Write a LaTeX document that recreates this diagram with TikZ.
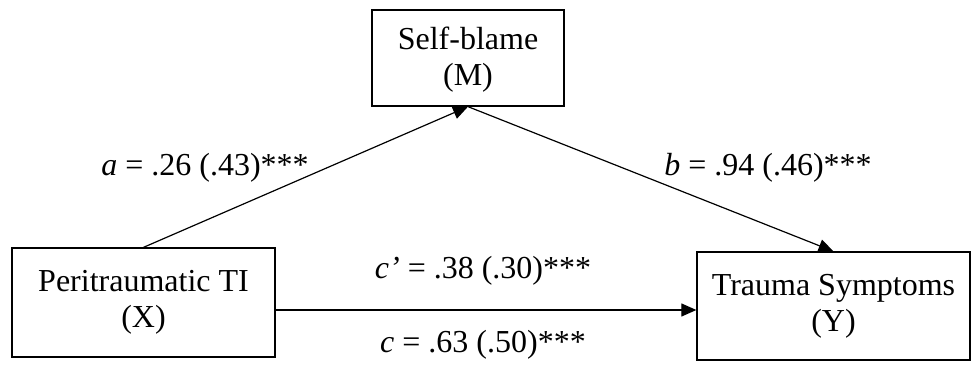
\documentclass[tikz,border=0pt]{standalone}
\usepackage{fontspec}
\setmainfont{Liberation Serif}
\usetikzlibrary{arrows.meta,positioning}
\tikzset{medbox/.style={draw=black,line width=0.65pt,align=center,inner sep=0pt,
 font=\fontsize{16}{18}\selectfont},
 medarr/.style={-{Triangle[length=7.5pt,width=6.5pt]},line width=0.6pt},
 coef/.style={anchor=base,inner sep=0pt,font=\fontsize{16}{18}\selectfont}}

\begin{document}
\begin{tikzpicture}[x=0.5pt,y=-0.5pt]
\useasboundingbox (0,0) rectangle (972,364);
\node[medbox,minimum width=96pt,minimum height=48pt,text depth=2pt] (med) at (468,58) {Self-blame\\(M)};
\node[medbox,minimum width=131.5pt,minimum height=54.5pt] (pred) at (143.5,302.5) {Peritraumatic TI\\(X)};
\node[medbox,minimum width=136.5pt,minimum height=54pt] (out) at (833.5,306) {Trauma Symptoms\\(Y)};
\draw[medarr] (pred.north) -- (med.south);
\draw[medarr] (med.south) -- (out.north);
\draw[medarr] ([yshift=-3.75pt]pred.east) -- ([yshift=-3.75pt]pred.east -| out.west);
\node[coef] (pa) at (205,175) {\textit{a} = .26 (.43)***};
\node[coef] (pb) at (768,175) {\textit{b} = .94 (.46)***};
\node[coef] (pcd) at (483,278) {\textit{c’} = .38 (.30)***};
\node[coef] (pc) at (483,352) {\textit{c} = .63 (.50)***};
\end{tikzpicture}
\end{document}
